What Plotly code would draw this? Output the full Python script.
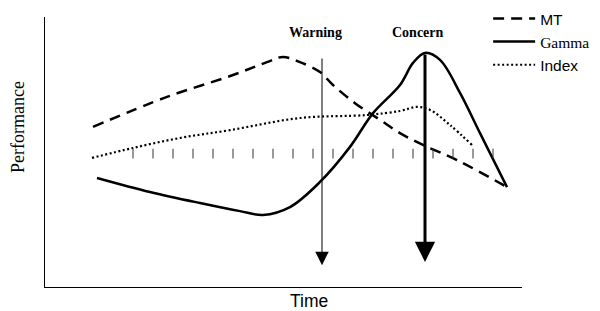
import plotly.graph_objects as go

# Time axis (arbitrary units), Performance (0-100)
mt_time = [4.0, 7.7, 11.0, 12.7, 13.5, 14.35, 15.35, 16.0, 17.1, 18.35, 19.35, 20.5, 22.2, 24.7]
mt_perf = [59.3, 70.4, 78.5, 83.3, 85.2, 83.3, 79.6, 74.8, 68.1, 61.9, 57.0, 52.6, 47.0, 37.0]

gamma_time = [4.2, 6.85, 9.35, 11.35, 12.5, 13.85, 15.35, 16.85, 18.0, 19.35, 20.0, 20.6, 21.35, 22.35, 23.35, 24.7]
gamma_perf = [40.4, 35.2, 31.1, 28.1, 26.7, 29.6, 38.9, 51.9, 64.4, 74.8, 83.0, 86.7, 84.1, 71.9, 57.0, 37.0]

index_time = [3.95, 6.0, 8.35, 10.85, 14.35, 17.7, 19.35, 20.2, 20.85, 21.85, 22.95]
index_perf = [47.8, 51.5, 55.2, 58.1, 62.6, 63.7, 65.2, 66.7, 65.6, 60.0, 52.6]

tick_time = [6, 7, 8, 9, 10, 11, 12, 13, 14, 15, 16, 17, 18, 19, 20, 21, 22, 23, 24]
tick_level = 49.4

warning_time = 15.45
warning_top, warning_tip = 85.2, 8.1
concern_time = 20.6
concern_top, concern_tip = 86.7, 9.3

SANS = "Liberation Sans, Arial, sans-serif"
SERIF = "Liberation Serif, Times New Roman, serif"

fig = go.Figure()
fig.add_trace(go.Scatter(
    x=mt_time, y=mt_perf, mode="lines", name="MT", legendgroup="a",
    line=dict(color="black", width=2.5, dash="11px,7px", shape="spline", smoothing=1.0)))
fig.add_trace(go.Scatter(
    x=gamma_time, y=gamma_perf, mode="lines", legendgroup="b",
    name="<span style=\"font-family:'Liberation Serif'\">Gamma</span>",
    line=dict(color="black", width=2.5, shape="spline", smoothing=1.0)))
fig.add_trace(go.Scatter(
    x=index_time, y=index_perf, mode="lines", name="Index", legendgroup="c",
    line=dict(color="black", width=2.2, dash="2px,2.5px", shape="spline", smoothing=1.0)))
fig.add_trace(go.Scatter(
    x=tick_time, y=[tick_level] * len(tick_time), mode="markers", showlegend=False,
    marker=dict(symbol="line-ns", size=7, line=dict(color="#333", width=1))))

label_y = (287 - 32) / 270
annotations = [
    dict(x=warning_time, y=warning_tip, ax=warning_time, ay=warning_top,
         xref="x", yref="y", axref="x", ayref="y", text="", showarrow=True,
         arrowhead=2, arrowsize=2.7, arrowwidth=1, arrowcolor="black"),
    dict(x=concern_time, y=concern_tip, ax=concern_time, ay=concern_top,
         xref="x", yref="y", axref="x", ayref="y", text="", showarrow=True,
         arrowhead=2, arrowsize=1.35, arrowwidth=3, arrowcolor="black"),
    dict(x=(315 - 45) / 477, y=label_y, xref="paper", yref="paper", xanchor="center",
         yanchor="middle", text="<b>Warning</b>", showarrow=False,
         font=dict(family=SERIF, size=14, color="black")),
    dict(x=(417.5 - 45) / 477, y=label_y, xref="paper", yref="paper", xanchor="center",
         yanchor="middle", text="<b>Concern</b>", showarrow=False,
         font=dict(family=SERIF, size=14, color="black")),
    dict(x=(18 - 45) / 477, y=(287 - 127) / 270, xref="paper", yref="paper",
         xanchor="center", yanchor="middle", text="Performance", textangle=-90,
         showarrow=False, font=dict(family=SERIF, size=18, color="black")),
    dict(x=(309 - 45) / 477, y=(287 - 300.5) / 270, xref="paper", yref="paper",
         xanchor="center", yanchor="middle", text="Time",
         showarrow=False, font=dict(family=SANS, size=17.5, color="black")),
]

fig.update_layout(
    width=600, height=311,
    margin=dict(l=45, r=78, t=17, b=24, autoexpand=False),
    paper_bgcolor="white", plot_bgcolor="white",
    showlegend=True,
    legend=dict(x=0.929, y=1.056, xanchor="left", yanchor="top", itemwidth=42,
                font=dict(family=SANS, size=15.5, color="black"),
                tracegroupgap=0, bgcolor="rgba(0,0,0,0)"),
    annotations=annotations,
    xaxis=dict(range=[1.6, 25.45], showgrid=False, zeroline=False, showticklabels=False,
               ticks="", showline=True, linecolor="black", linewidth=1, fixedrange=True),
    yaxis=dict(range=[0, 100], showgrid=False, zeroline=False, showticklabels=False,
               ticks="", showline=True, linecolor="black", linewidth=1, fixedrange=True),
)

fig.write_html("out.html", config={"displayModeBar": False},
               post_script="document.body.style.margin='0px';")
